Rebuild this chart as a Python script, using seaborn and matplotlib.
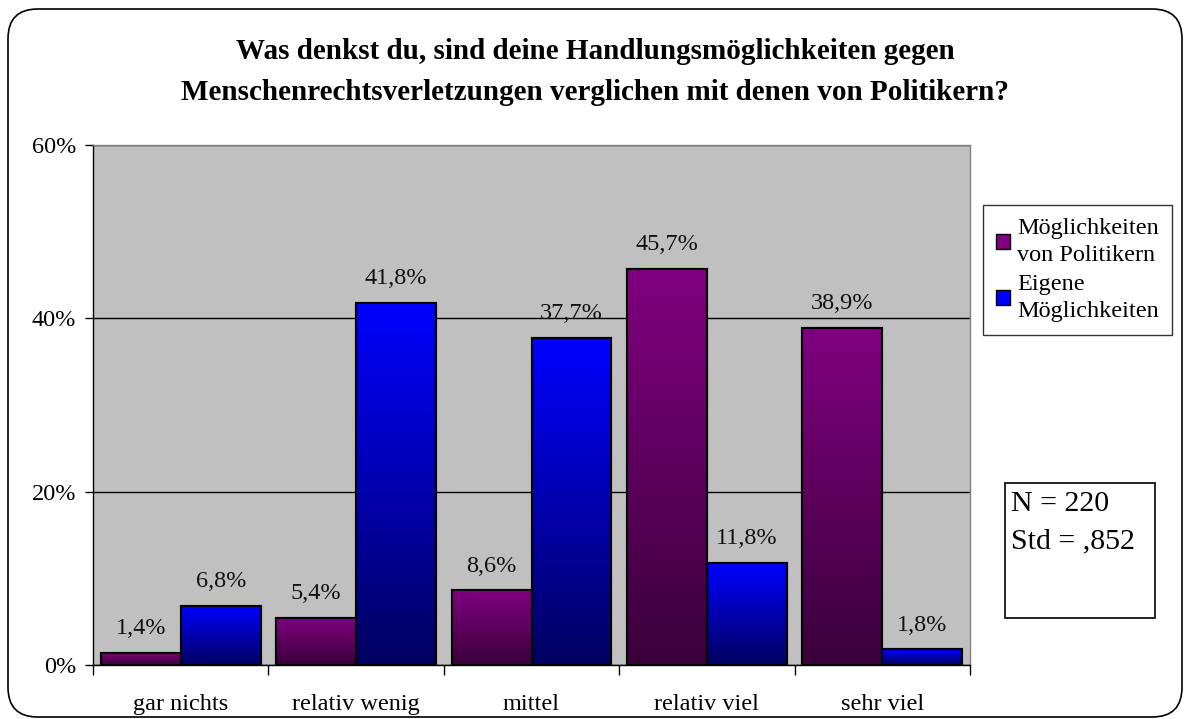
import numpy as np
import pandas as pd
import matplotlib
matplotlib.use("Agg")
import matplotlib.pyplot as plt
import seaborn as sns
from matplotlib.patches import FancyBboxPatch, Rectangle
from matplotlib.colors import LinearSegmentedColormap

categories = ["gar nichts", "relativ wenig", "mittel", "relativ viel", "sehr viel"]
series_names = ["Möglichkeiten\nvon Politikern", "Eigene\nMöglichkeiten"]
politiker = [1.4, 5.4, 8.6, 45.7, 38.9]
eigene = [6.8, 41.8, 37.7, 11.8, 1.8]
yticks = [0, 20, 40, 60]
title = ("Was denkst du, sind deine Handlungsmöglichkeiten gegen\n"
         "Menschenrechtsverletzungen verglichen mit denen von Politikern?")
stats_text = "N = 220\nStd = ,852"

top_colors = ["#800080", "#0000FF"]
bottom_colors = ["#3a003a", "#000060"]

df = pd.DataFrame({
    "Kategorie": categories * 2,
    "Serie": [series_names[0]] * 5 + [series_names[1]] * 5,
    "Wert": politiker + eigene,
})

sns.set_theme(style="white")
plt.rcParams["font.family"] = ["Liberation Serif", "DejaVu Serif"]
plt.rcParams["text.color"] = "black"
plt.rcParams["axes.labelcolor"] = "black"
plt.rcParams["xtick.color"] = "black"
plt.rcParams["ytick.color"] = "black"

fig = plt.figure(figsize=(11.90, 7.19), dpi=100)
fig.patch.set_facecolor("white")

# outer rounded border
border = FancyBboxPatch((8 / 1190, 2 / 719), 1174 / 1190, 708 / 719,
                        boxstyle="round,pad=0,rounding_size=0.025",
                        transform=fig.transFigure, fill=False,
                        edgecolor="black", linewidth=1.2, mutation_aspect=1190 / 719)
fig.patches.append(border)

ax = fig.add_axes([93 / 1190, 1 - 665 / 719, 877 / 1190, 520 / 719])
ax.set_facecolor("#C0C0C0")

sns.barplot(data=df, x="Kategorie", y="Wert", hue="Serie", ax=ax,
            palette=top_colors, width=0.912, edgecolor="black", linewidth=1.5,
            saturation=1, legend=True, zorder=3)

# gradient fill per bar
for ci, cont in enumerate(ax.containers):
    cmap = LinearSegmentedColormap.from_list("g", [bottom_colors[ci], top_colors[ci]])
    grad = np.linspace(0, 1, 256).reshape(-1, 1)
    for patch in cont.patches:
        x0, y0 = patch.get_x(), patch.get_y()
        w, h = patch.get_width(), patch.get_height()
        im = ax.imshow(grad, cmap=cmap, origin="lower", aspect="auto",
                       extent=[x0, x0 + w, y0, y0 + h], zorder=3.5)
        im.set_clip_path(patch)
        edge = Rectangle((x0, y0), w, h, fill=False, edgecolor="black",
                         linewidth=1.5, zorder=4)
        ax.add_patch(edge)
    labels = [f"{v:.1f}%".replace(".", ",") for v in cont.datavalues]
    ax.bar_label(cont, labels=labels, padding=10, fontsize=17.5, color="#111111")

ax.set_xlim(-0.5, 4.5)
ax.set_ylim(0, 60)
ax.set_yticks(yticks)
ax.set_yticklabels([f"{t}%" for t in yticks], fontsize=17.5)
ax.yaxis.grid(True, color="black", linewidth=1)
ax.set_axisbelow(True)
ax.tick_params(axis="y", which="major", left=True, length=6, width=1, color="black", pad=6)
ax.set_xticks(range(len(categories)))
ax.set_xticklabels(categories, fontsize=17.5)
ax.set_xticks([i - 0.5 for i in range(len(categories) + 1)], minor=True)
ax.tick_params(axis="x", which="major", length=0, pad=21)
ax.tick_params(axis="x", which="minor", bottom=True, length=7, width=1, color="black")
ax.set_xlabel("")
ax.set_ylabel("")

for side in ["top", "right"]:
    ax.spines[side].set_color("#808080")
    ax.spines[side].set_linewidth(1)
for side in ["left", "bottom"]:
    ax.spines[side].set_color("black")
    ax.spines[side].set_linewidth(1)

# legend
handles, lbls = ax.get_legend_handles_labels()
leg = ax.legend(handles, lbls, loc="upper left",
                bbox_to_anchor=(983 / 1190, 1 - 205 / 719),
                bbox_transform=fig.transFigure,
                fontsize=17.5, frameon=True, fancybox=False, edgecolor="black",
                handlelength=0.55, handleheight=0.55, handletextpad=0.3,
                labelspacing=0.35, borderpad=0.55, borderaxespad=0)
leg.get_frame().set_linewidth(1)
for t in leg.get_texts():
    t.set_linespacing(1.35)
for h in leg.legend_handles:
    h.set_edgecolor("black")
    h.set_linewidth(1)

# stats box
fig.patches.append(Rectangle((1005 / 1190, 1 - 618 / 719), 150 / 1190, 135 / 719,
                             transform=fig.transFigure, fill=False,
                             edgecolor="black", linewidth=1.2))
fig.text(1011 / 1190, 1 - 491 / 719, stats_text, fontsize=21.5, va="top", ha="left",
         linespacing=1.55)

fig.text(0.5, 1 - 72 / 719, title, ha="center", va="center", fontsize=21,
         fontweight="bold", linespacing=1.7)

fig.savefig("out.png", dpi=100)
